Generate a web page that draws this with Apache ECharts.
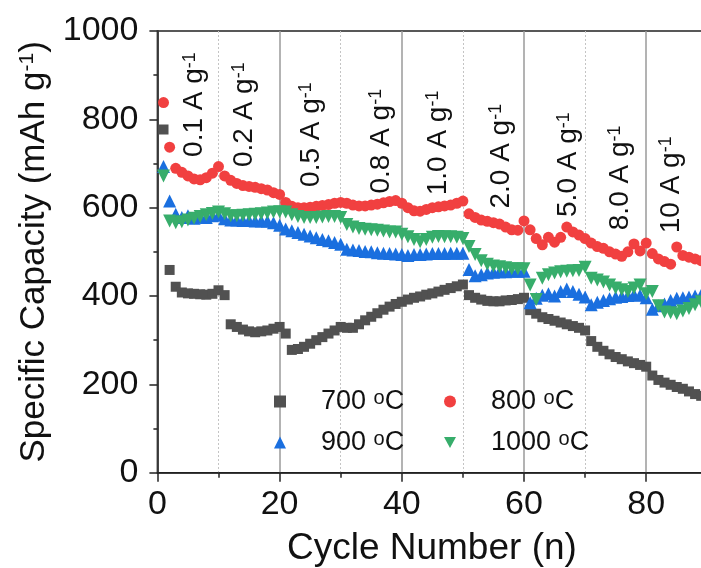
<!DOCTYPE html>
<html>
<head>
<meta charset="utf-8">
<script src="https://cdn.jsdelivr.net/npm/echarts@6/dist/echarts.min.js"></script>
<style>
  html, body { margin: 0; padding: 0; background: #fff; }
  #chart { width: 701px; height: 568px; }
</style>
</head>
<body>
<div id="chart"></div>
<script>
// Rate-capability test: specific capacity vs. cycle number for four annealing temperatures
const cycles = Array.from({ length: 90 }, (_, i) => i + 1);

const cap700 = [
  777, 459, 421, 408, 406, 405, 404, 403, 405, 413,
  402, 336, 330, 324, 320, 318, 320, 322, 326, 330,
  315, 278, 280, 285, 292, 300, 307, 315, 322, 330,
  328, 328, 336, 345, 353, 361, 369, 376, 382, 387,
  392, 396, 399, 403, 406, 410, 414, 418, 422, 426,
  402, 396, 392, 389, 388, 388, 390, 391, 393, 396,
  368, 360, 352, 348, 344, 340, 336, 332, 328, 322,
  298, 285, 276, 268, 262, 257, 252, 248, 244, 240,
  220, 210, 204, 199, 194, 190, 184, 178, 174, 170
];
const cap800 = [
  838, 737, 689, 680, 672, 665, 663, 668, 678, 693,
  672, 662, 655, 650, 648, 646, 643, 640, 634, 630,
  612, 603, 600, 600, 601, 603, 605, 607, 610, 612,
  610, 606, 604, 604, 606, 608, 611, 614, 616, 610,
  600, 593, 592, 596, 600, 602, 604, 606, 610, 615,
  586, 578, 572, 569, 566, 563, 556, 550, 549, 570,
  550, 530, 516, 533, 522, 533, 556, 545, 538, 530,
  520, 512, 508, 500, 495, 490, 500, 518, 502, 520,
  496, 484, 478, 472, 511, 492, 488, 484, 480, 478
];
const cap900 = [
  693, 615, 585, 578, 582, 576, 580, 578, 582, 583,
  575, 572, 572, 571, 571, 570, 570, 569, 566, 560,
  552, 548, 544, 540, 536, 532, 528, 525, 521, 517,
  506, 504, 503, 501, 500, 498, 497, 496, 495, 494,
  492, 494, 494, 495, 496, 496, 496, 497, 497, 497,
  460, 446, 448, 452, 454, 455, 455, 456, 456, 456,
  385, 395, 402, 405, 400, 410, 416, 410, 404, 398,
  380, 386, 390, 394, 397, 399, 401, 403, 402, 396,
  370, 378, 382, 390, 395, 396, 398, 400, 402, 400
];
const cap1000 = [
  672, 570, 566, 568, 572, 576, 580, 584, 587, 590,
  586, 582, 582, 583, 584, 585, 586, 588, 590, 591,
  590, 584, 580, 578, 578, 578, 579, 580, 580, 578,
  562, 556, 553, 551, 550, 549, 547, 545, 545, 540,
  534, 528, 523, 528, 533, 535, 534, 534, 533, 530,
  512, 494, 480, 472, 468, 466, 464, 462, 462, 462,
  425, 392, 440, 448, 452, 455, 456, 457, 458, 465,
  440, 436, 432, 425, 418, 414, 410, 418, 425, 405,
  410, 378, 364, 362, 360, 366, 372, 380, 387, 390
];

const seriesNames = ['700 °C', '800 °C', '900 °C', '1000 °C'];
const rateLabels = ['0.1', '0.2', '0.5', '0.8', '1.0', '2.0', '5.0', '8.0', '10'];

const xTicks = [0, 20, 40, 60, 80];
const yTicks = [0, 200, 400, 600, 800, 1000];

// Where each current-density label starts (cycle, capacity) — layout only
const rateLabelAnchors = [
  [6.1, 715], [14.2, 692], [25.2, 647], [36.6, 632], [46.0, 628],
  [56.3, 598], [67.3, 579], [75.7, 549], [84.1, 542]
];

const FONT = '"Liberation Sans", Arial, Helvetica, sans-serif';
const colors = ['#515151', '#F14040', '#1A6FDF', '#37AD6B'];
const DOWN_TRIANGLE = 'path://M0,0 L10,0 L5,9 Z';

const chart = echarts.init(document.getElementById('chart'), null, { renderer: 'canvas' });

function pairs(ys) { return cycles.map((c, i) => [c, ys[i]]); }

const symbolDefs = [
  { symbol: 'rect', size: 10, rotate: 0 },
  { symbol: 'circle', size: 11, rotate: 0 },
  { symbol: 'triangle', size: 13, rotate: 0 },
  { symbol: 'triangle', size: 13, rotate: 180 }
];
const allCaps = [cap700, cap800, cap900, cap1000];

const option = {
  animation: false,
  backgroundColor: '#ffffff',
  grid: {
    left: 157.4, top: 31, right: -67.4, bottom: 95.3,
    containLabel: false, outerBoundsMode: 'none',
    show: true, borderColor: '#222', borderWidth: 1.5, backgroundColor: 'transparent'
  },
  legend: {
    data: [
      { name: seriesNames[0] },
      { name: seriesNames[1] },
      { name: seriesNames[2] },
      { name: seriesNames[3], icon: DOWN_TRIANGLE }
    ],
    left: 274, top: 388, width: 340,
    padding: 0,
    itemWidth: 12, itemHeight: 12, itemGap: 14,
    formatter: n => n.replace('°', '{s|o}'),
    textStyle: {
      fontFamily: FONT, fontSize: 27, color: '#111', lineHeight: 27,
      width: 109, padding: [0, 0, 0, 30],
      rich: { s: { fontFamily: FONT, fontSize: 20, lineHeight: 20, verticalAlign: 'top', color: '#111' } }
    }
  },
  xAxis: {
    type: 'value', min: 0, max: 100, interval: 20,
    name: 'Cycle Number (n)', nameLocation: 'middle', nameGap: 58,
    nameTextStyle: { fontFamily: FONT, fontSize: 37, color: '#111', padding: [0, 62, 0, 0] },
    axisLine: { show: true, onZero: false, lineStyle: { color: '#222', width: 1.5 } },
    axisTick: { show: true, inside: false, length: 9, lineStyle: { color: '#222', width: 1.5 } },
    minorTick: { show: true, splitNumber: 2, length: 5, lineStyle: { color: '#222', width: 1.5 } },
    axisLabel: {
      fontFamily: FONT, fontSize: 34, color: '#111', margin: 15,
      formatter: v => (xTicks.indexOf(v) >= 0 ? String(v) : '')
    },
    splitLine: { show: true, lineStyle: { color: '#9a9a9a', width: 1.5 } },
    minorSplitLine: { show: true, lineStyle: { color: '#c4c4c4', width: 1, type: [2, 2] } }
  },
  yAxis: {
    type: 'value', min: 0, max: 1000, interval: 200,
    name: 'Specific Capacity (mAh g{s|-1})', nameLocation: 'middle', nameGap: 105,
    nameTextStyle: {
      fontFamily: FONT, fontSize: 35, color: '#111', lineHeight: 35,
      rich: { s: { fontFamily: FONT, fontSize: 21, lineHeight: 21, verticalAlign: 'top', color: '#111' } }
    },
    axisLine: { show: true, lineStyle: { color: '#222', width: 1.5 } },
    axisTick: { show: true, inside: false, length: 8, lineStyle: { color: '#222', width: 1.5 } },
    minorTick: { show: true, splitNumber: 2, length: 4, lineStyle: { color: '#222', width: 1.5 } },
    axisLabel: {
      fontFamily: FONT, fontSize: 34, color: '#111', margin: 19,
      formatter: v => (yTicks.indexOf(v) >= 0 ? String(v) : '')
    },
    splitLine: { show: false }
  },
  series: seriesNames.map((name, k) => ({
    name,
    type: 'scatter',
    data: pairs(allCaps[k]),
    symbol: symbolDefs[k].symbol,
    symbolSize: symbolDefs[k].size,
    symbolRotate: symbolDefs[k].rotate,
    itemStyle: { color: colors[k], opacity: 1 },
    z: 3 + k
  }))
};

chart.setOption(option);

// Current-density labels, rotated to read bottom-to-top
const graphics = rateLabels.map((r, i) => {
  const p = chart.convertToPixel({ gridIndex: 0 }, rateLabelAnchors[i]);
  return {
    type: 'text',
    x: p[0], y: p[1],
    rotation: Math.PI / 2,
    z: 10,
    style: {
      text: r + ' A g{s|-1}',
      fontFamily: FONT, fontSize: 28, fill: '#111',
      lineHeight: 28,
      align: 'left', verticalAlign: 'middle',
      rich: { s: { fontFamily: FONT, fontSize: 18, lineHeight: 18, verticalAlign: 'top', fill: '#111' } }
    }
  };
});
chart.setOption({ graphic: graphics });
</script>
</body>
</html>
